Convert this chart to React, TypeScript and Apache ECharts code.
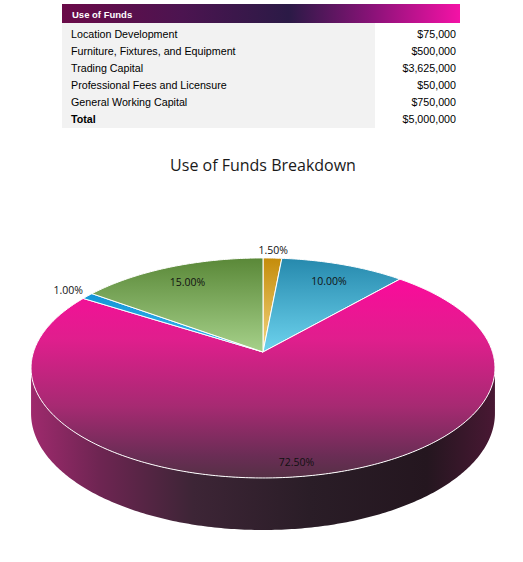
import { useEffect, useRef } from "react";
import * as echarts from "echarts";

const categories = [
  "Location Development",
  "Furniture, Fixtures, and Equipment",
  "Trading Capital",
  "Professional Fees and Licensure",
  "General Working Capital",
];
const amounts = [75000, 500000, 3625000, 50000, 750000];

const sliceGradients = [
  [["#c48c0a", 0], ["#f3d681", 1]],
  [["#2689ad", 0], ["#6dd3ee", 1]],
  [["#fa0b9b", 0], ["#e01e8d", 0.3], ["#a62a72", 0.64], ["#6a2d55", 0.89], ["#553045", 1]],
  [["#1395d6", 0], ["#3cb8f0", 1]],
  [["#5a8838", 0], ["#a6d18a", 1]],
];
const labelRadius = [1.1, 0.8, 0.9, 1.12, 0.8];

const total = amounts.reduce((a, b) => a + b, 0);
const starts: number[] = [];
amounts.reduce((acc, v) => {
  starts.push(acc);
  return acc + v / total;
}, 0);

const money = (v: number) => "$" + v.toLocaleString("en-US");

// tilted pie, simple perspective
const CX = 263;
const CY = 352;
const RX = 229.5;
const RY = 107.7;
const PERSP = 0.145;
const DEPTH = 44.5;
const FONT = "'Open Sans', 'Noto Sans', sans-serif";
const TABLE_FONT = "'Liberation Sans', Arial, sans-serif";

function project(t: number, r = 1, down = 0) {
  const a = t * Math.PI * 2;
  const u = r * Math.sin(a);
  const v = -r * Math.cos(a);
  const d = 1 - PERSP * v;
  return [CX + (RX * u) / d, CY + (RY * v + DEPTH * down) / d];
}

const visFrom = Math.acos(-PERSP) / (Math.PI * 2);
const visTo = 1 - visFrom;

function arc(t0: number, t1: number, down = 0) {
  const n = Math.max(2, Math.ceil((t1 - t0) / 0.002));
  const pts: number[][] = [];
  for (let i = 0; i <= n; i++) pts.push(project(t0 + ((t1 - t0) * i) / n, 1, down));
  return pts;
}

function gradient(stops: any[]) {
  return new echarts.graphic.LinearGradient(
    0,
    0,
    0,
    1,
    stops.map(([color, offset]) => ({ offset, color }))
  );
}

export default function App() {
  const ref = useRef<HTMLDivElement>(null);

  useEffect(() => {
    if (!ref.current) return;
    const chart = echarts.init(ref.current, null, { renderer: "svg" });

    const data = amounts.map((v, i) => [v, starts[i]]);

    const sideFill = new echarts.graphic.LinearGradient(
      CX - RX * 1.02,
      0,
      CX + RX * 1.02,
      0,
      [
        { offset: 0, color: "#a02a6e" },
        { offset: 0.15, color: "#6e2552" },
        { offset: 0.35, color: "#3d2536" },
        { offset: 0.6, color: "#2a1d27" },
        { offset: 0.85, color: "#24161f" },
        { offset: 1, color: "#4a1834" },
      ],
      true
    );

    const tableGraphics: any[] = [
      {
        type: "rect",
        shape: { x: 62, y: 4, width: 398, height: 19 },
        style: {
          fill: new echarts.graphic.LinearGradient(0, 0, 1, 0, [
            { offset: 0, color: "#6a0a48" },
            { offset: 0.3, color: "#4c1450" },
            { offset: 0.57, color: "#2b1a46" },
            { offset: 0.78, color: "#8a1278" },
            { offset: 1, color: "#f412a6" },
          ]),
        },
      },
      {
        type: "text",
        x: 72,
        y: 14,
        style: {
          text: "Use of Funds",
          fill: "#fff",
          fontSize: 9.5,
          fontWeight: "bold",
          fontFamily: TABLE_FONT,
          verticalAlign: "middle",
        },
      },
      {
        type: "rect",
        shape: { x: 62, y: 23, width: 313, height: 105 },
        style: { fill: "#f2f2f2" },
      },
    ];
    const rows = [...categories.map((c, i) => [c, money(amounts[i])]), ["Total", money(total)]];
    rows.forEach(([name, value], i) => {
      const y = 34 + i * 17;
      const bold = i === rows.length - 1 ? "bold" : "normal";
      tableGraphics.push(
        {
          type: "text",
          x: 71,
          y,
          style: { text: name, fill: "#000", fontSize: 10.7, fontWeight: bold, fontFamily: TABLE_FONT, verticalAlign: "middle" },
        },
        {
          type: "text",
          x: 456,
          y,
          style: { text: value, fill: "#000", fontSize: 10.7, fontFamily: TABLE_FONT, align: "right", verticalAlign: "middle" },
        }
      );
    });

    chart.setOption({
      animation: false,
      graphic: [
        ...tableGraphics,
        {
          type: "text",
          x: CX,
          y: 165,
          style: {
            text: "Use of Funds Breakdown",
            fill: "#1a1a1a",
            fontSize: 16,
            fontFamily: FONT,
            align: "center",
            verticalAlign: "middle",
          },
        },
      ],
      series: [
        {
          type: "custom",
          name: "side",
          coordinateSystem: "none",
          z: 1,
          data,
          renderItem: (params: any, api: any) => {
            const t0 = api.value(1);
            const t1 = t0 + api.value(0) / total;
            const a = Math.max(t0, visFrom);
            const b = Math.min(t1, visTo);
            if (a >= b) return { type: "group", children: [] };
            const pts = [...arc(a, b, 0), ...arc(a, b, 1).reverse()];
            return { type: "polygon", shape: { points: pts }, style: { fill: sideFill } };
          },
        },
        {
          type: "custom",
          name: "top",
          coordinateSystem: "none",
          z: 2,
          data,
          renderItem: (params: any, api: any) => {
            const i = params.dataIndex;
            const t0 = api.value(1);
            const share = api.value(0) / total;
            const pts = [[CX, CY], ...arc(t0, t0 + share)];
            const [lx, ly] = project(t0 + share / 2, labelRadius[i]);
            return {
              type: "group",
              children: [
                {
                  type: "polygon",
                  shape: { points: pts },
                  style: { fill: gradient(sliceGradients[i]), stroke: "#ffffff", lineWidth: 1, lineJoin: "round" },
                },
                {
                  type: "text",
                  x: lx,
                  y: ly,
                  z2: 100,
                  style: {
                    text: (share * 100).toFixed(2) + "%",
                    fill: "#111",
                    fontSize: 10.5,
                    fontFamily: FONT,
                    align: "center",
                    verticalAlign: "middle",
                  },
                },
              ],
            };
          },
        },
      ],
    });

    return () => chart.dispose();
  }, []);

  return (
    <div
      ref={ref}
      style={{ position: "absolute", left: 0, top: 0, width: 523, height: 562, background: "#fff" }}
    />
  );
}
